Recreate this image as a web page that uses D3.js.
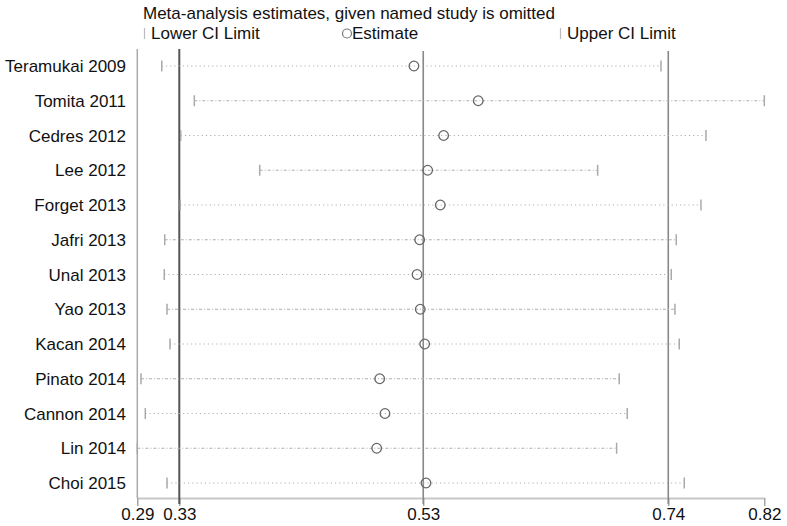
<!DOCTYPE html>
<html><head><meta charset="utf-8">
<script src="https://cdn.jsdelivr.net/npm/d3@7"></script>
<style>
html,body{margin:0;padding:0;background:#fff;}
text{font-family:"Liberation Sans",Arial,sans-serif;fill:#111;}
</style></head>
<body><svg id="c" width="787" height="526"></svg>
<script>
const studies = ["Teramukai 2009","Tomita 2011","Cedres 2012","Lee 2012","Forget 2013","Jafri 2013","Unal 2013","Yao 2013","Kacan 2014","Pinato 2014","Cannon 2014","Lin 2014","Choi 2015"];
const lowerCI  = [0.3125,0.3398,0.3284,0.3946,0.3280,0.3150,0.3146,0.3169,0.3194,0.2951,0.2987,0.2920,0.3169];
const estimate = [0.5239,0.5778,0.5488,0.5354,0.5460,0.5287,0.5265,0.5292,0.5329,0.4952,0.4996,0.4927,0.5340];
const upperCI  = [0.7310,0.8176,0.7687,0.6779,0.7645,0.7438,0.7396,0.7427,0.7463,0.6960,0.7027,0.6938,0.7505];
const overall = {lower:0.3272, est:0.5317, upper:0.7371};
const axisTicks = [0.2920,0.3272,0.5317,0.7371,0.8176];
const axisMin = 0.2920, axisMax = 0.8176;
const title = "Meta-analysis estimates, given named study is omitted";
const legendLabels = ["Lower CI Limit","Estimate","Upper CI Limit"];

const svg = d3.select("#c");
const x = d3.scaleLinear().domain([axisMin, axisMax]).range([137.3, 764.3]);
const y = d3.scalePoint().domain(studies).range([66, 483]);
const fs = 17;
const axisY = 498;

// title & legend
svg.append("text").attr("x",143).attr("y",19).attr("font-size",fs).text(title);
svg.append("line").attr("x1",144.5).attr("x2",144.5).attr("y1",28).attr("y2",39).attr("stroke","#bbb").attr("stroke-width",1.2);
svg.append("text").attr("x",151).attr("y",39).attr("font-size",fs).text(legendLabels[0]);
svg.append("circle").attr("cx",347).attr("cy",33.5).attr("r",4.5).attr("fill","none").attr("stroke","#777").attr("stroke-width",1.2);
svg.append("text").attr("x",352).attr("y",39).attr("font-size",fs).text(legendLabels[1]);
svg.append("line").attr("x1",560.5).attr("x2",560.5).attr("y1",28).attr("y2",39).attr("stroke","#bbb").attr("stroke-width",1.2);
svg.append("text").attr("x",567).attr("y",39).attr("font-size",fs).text(legendLabels[2]);

// left frame line
svg.append("line").attr("x1",x(axisMin)).attr("x2",x(axisMin)).attr("y1",49).attr("y2",axisY)
  .attr("stroke","#aaa").attr("stroke-width",1.5);

// axis
const axis = d3.axisBottom(x).tickValues(axisTicks).tickFormat(d3.format(".2f")).tickSize(8).tickSizeOuter(0);
const ag = svg.append("g").attr("transform",`translate(0,${axisY})`).call(axis);
ag.select(".domain").attr("stroke","#c8c8c8").attr("stroke-width",2);
ag.selectAll(".tick line").attr("stroke","#999").attr("stroke-width",1.3);
ag.selectAll(".tick text").attr("font-size",fs).attr("font-family","Liberation Sans, Arial, sans-serif").attr("fill","#111").attr("dy","0.95em").attr("y",6);

// reference vertical lines
svg.append("line").attr("x1",x(overall.lower)).attr("x2",x(overall.lower)).attr("y1",49).attr("y2",axisY+6)
  .attr("stroke","#555").attr("stroke-width",2);
[overall.est, overall.upper].forEach(v=>{
  svg.append("line").attr("x1",x(v)).attr("x2",x(v)).attr("y1",51).attr("y2",axisY+6)
    .attr("stroke","#888").attr("stroke-width",1.6);
});

// rows
const rows = svg.append("g");
studies.forEach((s,i)=>{
  const yy = y(s);
  rows.append("text").attr("x",126).attr("y",yy+6).attr("text-anchor","end").attr("font-size",fs).text(s);
  rows.append("line").attr("x1",x(lowerCI[i])).attr("x2",x(upperCI[i])).attr("y1",yy).attr("y2",yy)
    .attr("stroke","#b0b0b0").attr("stroke-width",1.1).attr("stroke-dasharray", i%2===0 ? "1.2,3" : "3,2,1,2");
  rows.append("line").attr("x1",x(lowerCI[i])).attr("x2",x(lowerCI[i])).attr("y1",yy-5.5).attr("y2",yy+5.5)
    .attr("stroke","#aaa").attr("stroke-width",1.5);
  rows.append("line").attr("x1",x(upperCI[i])).attr("x2",x(upperCI[i])).attr("y1",yy-5.5).attr("y2",yy+5.5)
    .attr("stroke","#aaa").attr("stroke-width",1.5);
  rows.append("circle").attr("cx",x(estimate[i])).attr("cy",yy).attr("r",4.8)
    .attr("fill","none").attr("stroke","#666").attr("stroke-width",1.3);
});
</script></body></html>
